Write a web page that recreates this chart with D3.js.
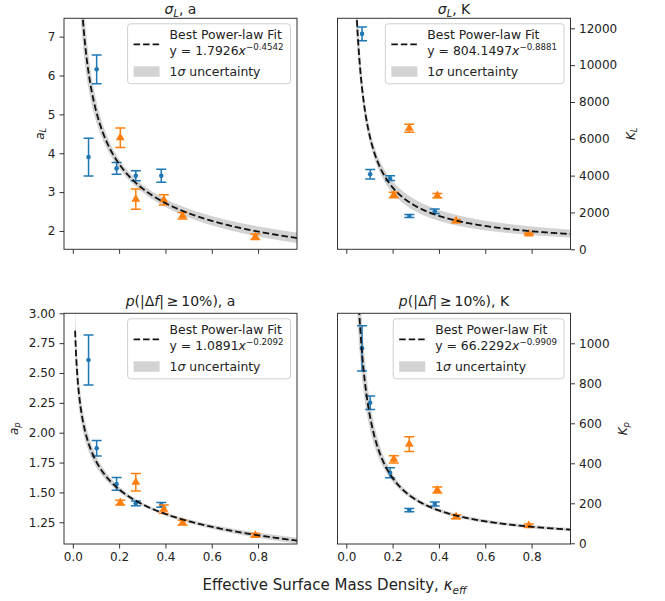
<!DOCTYPE html>
<html><head><meta charset="utf-8">
<script src="https://cdn.jsdelivr.net/npm/d3@7"></script>
<style>body{margin:0;background:#fff} svg{display:block} text{font-family:"DejaVu Sans",sans-serif;fill:#222}</style>
</head><body><svg id="c" width="665" height="601"></svg>
<script>
// ---------------- data ----------------
const xBlue   = [0.068, 0.103, 0.189, 0.272, 0.382];
const xOrange = [0.205, 0.272, 0.393, 0.474, 0.788];

const aL_blue      = [3.90, 6.16, 3.61, 3.42, 3.42];
const aL_blueErr   = [0.485, 0.37, 0.15, 0.13, 0.165];
const aL_orange    = [4.40, 2.82, 2.80, 2.39, 1.85];
const aL_orangeErr = [0.25, 0.26, 0.13, 0.085, 0.07];

const KL_blue      = [11700, 4076, 3859, 1810, 2065];
const KL_blueErr   = [370, 260, 130, 80, 125];
const KL_orange    = [2951, 6576, 2913, 1538, 831];
const KL_orangeErr = [150, 220, 120, 80, 60];

const ap_blue      = [2.609, 1.870, 1.571, 1.409, 1.395];
const ap_blueErr   = [0.21, 0.065, 0.053, 0.02, 0.02];
const ap_orange    = [1.414, 1.585, 1.359, 1.247, 1.141];
const ap_orangeErr = [0.02, 0.073, 0.035, 0.02, 0.015];

const Kp_blue      = [975, 703, 353, 166, 196];
const Kp_blueErr   = [113, 34, 25, 8, 10];
const Kp_orange    = [420, 496, 266, 133, 88];
const Kp_orangeErr = [18, 37, 15, 10, 8];

const fitA = [1.7926, 804.1497, 1.0891, 66.2292];
const fitB = [-0.4542, -0.8881, -0.2092, -0.9909];
// 1-sigma band (log half-width) parameters: pivot, minimum, slope
const bandPivot = [0.25, 0.10, 0.35, 0.30];
const bandMin   = [0.03, 0.06, 0.01, 0.05];
const bandSlope = [0.05, 0.11, 0.02, 0.09];

const xTicks  = [0, 0.2, 0.4, 0.6, 0.8];
const yTicksAL = [2, 3, 4, 5, 6, 7];
const yTicksKL = [0, 2000, 4000, 6000, 8000, 10000, 12000];
const yTicksAp = [1.25, 1.5, 1.75, 2.0, 2.25, 2.5, 2.75, 3.0];
const yTicksKp = [0, 200, 400, 600, 800, 1000];

const titles = [
  [{t:"σ",i:1},{t:"L",i:1,sub:1},{t:", a"}],
  [{t:"σ",i:1},{t:"L",i:1,sub:1},{t:", K"}],
  [{t:"p",i:1},{t:"(|Δ"},{t:"f",i:1},{t:"|\u2009≥\u200910%), a"}],
  [{t:"p",i:1},{t:"(|Δ"},{t:"f",i:1},{t:"|\u2009≥\u200910%), K"}]
];
const yLabels = [
  [{t:"a",i:1},{t:"L",i:1,sub:1}],
  [{t:"K",i:1},{t:"L",i:1,sub:1}],
  [{t:"a",i:1},{t:"p",i:1,sub:1}],
  [{t:"K",i:1},{t:"p",i:1,sub:1}]
];

// ---------------- layout ----------------
const BLUE = "#1f77b4", ORANGE = "#ff7f0e", AX = "#333";
const panels = [
  {left:64,    top:18.3,  w:233, h:231,   yDom:[1.528, 7.472], yTicks:yTicksAL, fmt:d3.format("d"),   side:"left",  xLab:false, yl:39,  tb:13.5,
   yb:aL_blue, eb:aL_blueErr, yo:aL_orange, eo:aL_orangeErr},
  {left:337.5, top:18.3,  w:233, h:231,   yDom:[0, 12543],     yTicks:yTicksKL, fmt:d3.format("d"),   side:"right", xLab:false, yl:630, tb:13.5,
   yb:KL_blue, eb:KL_blueErr, yo:KL_orange, eo:KL_orangeErr},
  {left:64,    top:313.3, w:233, h:230.7, yDom:[1.068, 3.0],   yTicks:yTicksAp, fmt:d3.format(".2f"), side:"left",  xLab:true,  yl:13,  tb:306,
   yb:ap_blue, eb:ap_blueErr, yo:ap_orange, eo:ap_orangeErr},
  {left:337.5, top:313.3, w:233, h:230.7, yDom:[-3.5, 1150],   yTicks:yTicksKp, fmt:d3.format("d"),   side:"right", xLab:true,  yl:622, tb:306,
   yb:Kp_blue, eb:Kp_blueErr, yo:Kp_orange, eo:Kp_orangeErr}
];

const svg = d3.select("#c");
svg.append("rect").attr("width",665).attr("height",601).attr("fill","#fff");

function rich(textSel, segs, size){
  let shift = 0;
  segs.forEach(s => {
    const target = s.sub ? size*0.24 : s.sup ? -size*0.4 : 0;
    const ts = textSel.append("tspan").text(s.t)
      .attr("font-size", (s.sub||s.sup) ? size*0.7 : size)
      .attr("dy", target - shift);
    if (s.i) ts.attr("font-style","italic");
    shift = target;
  });
  return textSel;
}

const xsCurve = d3.range(0, 1201).map(i => 0.01 * Math.pow(100, i/1200));

panels.forEach((p, k) => {
  const x = d3.scaleLinear().domain([-0.038, 0.968]).range([p.left, p.left + p.w]);
  const y = d3.scaleLinear().domain(p.yDom).range([p.top + p.h, p.top]);
  const A = fitA[k], B = fitB[k];
  const f = v => A * Math.pow(v, B);
  const hw = v => Math.sqrt(bandMin[k]**2 + (bandSlope[k]*Math.log(v/bandPivot[k]))**2);

  const clipId = "clip" + k;
  svg.append("clipPath").attr("id", clipId).append("rect")
    .attr("x", p.left).attr("y", p.top).attr("width", p.w).attr("height", p.h);
  const g = svg.append("g").attr("clip-path", `url(#${clipId})`);

  // band
  g.append("path").datum(xsCurve)
    .attr("d", d3.area().x(v => x(v)).y0(v => y(f(v)*Math.exp(-hw(v)))).y1(v => y(f(v)*Math.exp(hw(v)))))
    .attr("fill", "#d3d3d3");

  // error bars + markers
  function series(xs, ys, es, color, marker){
    const sg = g.append("g");
    xs.forEach((xv, i) => {
      const cx = x(xv), y1 = y(ys[i] + es[i]), y0 = y(ys[i] - es[i]);
      sg.append("line").attr("x1",cx).attr("x2",cx).attr("y1",y0).attr("y2",y1).attr("stroke",color).attr("stroke-width",1.5);
      [y0, y1].forEach(yy => sg.append("line").attr("x1",cx-5).attr("x2",cx+5).attr("y1",yy).attr("y2",yy).attr("stroke",color).attr("stroke-width",1.5));
    });
    xs.forEach((xv, i) => {
      if (marker === "circle") {
        sg.append("circle").attr("cx", x(xv)).attr("cy", y(ys[i])).attr("r", 2.3).attr("fill", color);
      } else {
        sg.append("path").attr("d", d3.symbol(d3.symbolTriangle, 34)())
          .attr("transform", `translate(${x(xv)},${y(ys[i])})`).attr("fill", color);
      }
    });
  }
  series(xBlue, p.yb, p.eb, BLUE, "circle");
  series(xOrange, p.yo, p.eo, ORANGE, "triangle");

  // fit line
  g.append("path").datum(xsCurve)
    .attr("d", d3.line().x(v => x(v)).y(v => y(f(v))))
    .attr("fill","none").attr("stroke","#111").attr("stroke-width",1.8).attr("stroke-dasharray","6.5,3");

  // frame
  svg.append("rect").attr("x",p.left).attr("y",p.top).attr("width",p.w).attr("height",p.h)
    .attr("fill","none").attr("stroke",AX).attr("stroke-width",1);

  // axes
  const xa = d3.axisBottom(x).tickValues(xTicks).tickSize(4.5).tickPadding(4).tickSizeOuter(0)
    .tickFormat(p.xLab ? d3.format(".1f") : () => "");
  const gx = svg.append("g").attr("transform", `translate(0,${p.top + p.h})`).call(xa);
  const ya = (p.side === "left" ? d3.axisLeft(y) : d3.axisRight(y))
    .tickValues(p.yTicks).tickSize(4.5).tickPadding(4).tickSizeOuter(0).tickFormat(p.fmt);
  const gy = svg.append("g").attr("transform", `translate(${p.side === "left" ? p.left : p.left + p.w},0)`).call(ya);
  [gx, gy].forEach(ax => {
    ax.select(".domain").remove();
    ax.selectAll(".tick line").attr("stroke", AX);
    ax.selectAll(".tick text").attr("font-size", 12).attr("font-family", "DejaVu Sans").attr("fill", "#222");
  });

  // title
  rich(svg.append("text").attr("x", p.left + p.w/2).attr("y", p.tb).attr("text-anchor","middle"), titles[k], 14);

  // y label
  const ym = p.top + p.h/2;
  rich(svg.append("text").attr("transform", `translate(${p.yl + 4.5},${ym}) rotate(-90)`).attr("text-anchor","middle"), yLabels[k], 12);

  // legend
  const lg = svg.append("g");
  const lw = 12.4;
  const by = p.top + 5.5;
  const t1 = lg.append("text").attr("font-size", lw).text("Best Power-law Fit");
  const t2 = rich(lg.append("text"), [{t:"y = " + A.toFixed(4)},{t:"x",i:1},{t:"−" + Math.abs(B).toFixed(4), sup:1}], lw);
  const t3 = rich(lg.append("text"), [{t:"1"},{t:"σ",i:1},{t:" uncertainty"}], lw);
  const tw = Math.max(t1.node().getComputedTextLength(), t2.node().getComputedTextLength(), t3.node().getComputedTextLength());
  const bw = 42 + tw + 7;
  const bx = p.left + p.w - 6.5 - bw;
  lg.insert("rect", ":first-child").attr("x", bx).attr("y", by).attr("width", bw).attr("height", 60)
    .attr("rx", 3).attr("fill", "#fff").attr("fill-opacity", 0.8).attr("stroke", "#cfcfcf");
  t1.attr("x", bx + 42).attr("y", by + 15.5);
  t2.attr("x", bx + 42).attr("y", by + 31.5);
  t3.attr("x", bx + 42).attr("y", by + 52.5);
  lg.append("line").attr("x1", bx + 6).attr("x2", bx + 32).attr("y1", by + 20.5).attr("y2", by + 20.5)
    .attr("stroke","#111").attr("stroke-width",1.8).attr("stroke-dasharray","6.5,3");
  lg.append("rect").attr("x", bx + 6).attr("y", by + 42.5).attr("width", 26).attr("height", 10.5).attr("fill", "#d3d3d3");
});

// x label
rich(svg.append("text").attr("x", 334.5).attr("y", 590).attr("text-anchor","middle"),
  [{t:"Effective Surface Mass Density, "},{t:"κ",i:1},{t:"eff",i:1,sub:1}], 15);
</script>
</body></html>
